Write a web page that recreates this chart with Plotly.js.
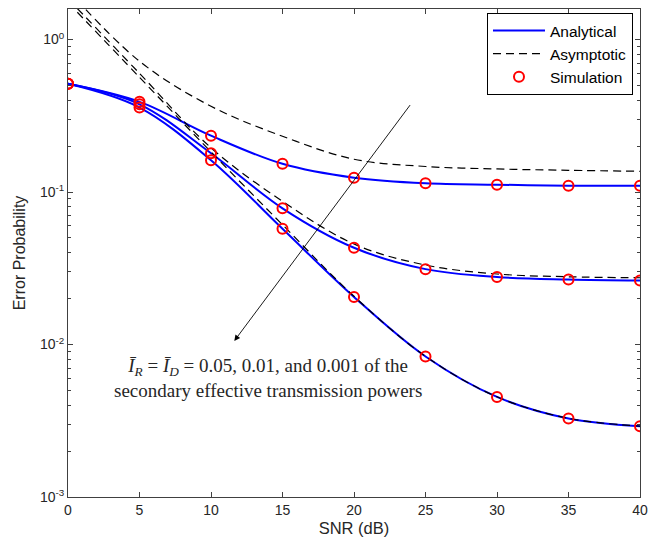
<!DOCTYPE html>
<html>
<head>
<meta charset="utf-8">
<script src="https://cdn.plot.ly/plotly-3.0.1.min.js"></script>
<style>html,body{margin:0;padding:0;background:#fff;}#chart{width:657px;height:547px;}</style>
</head>
<body>
<div id="chart"></div>
<script>
// SNR (dB)
var snr = [0, 5, 10, 15, 20, 25, 30, 35, 40];
// Analytical / simulation values for I_R = I_D = 0.05, 0.01, 0.001
var anal005  = [0.512, 0.390, 0.234, 0.153, 0.124, 0.114, 0.1117, 0.110, 0.110];
var anal001  = [0.512, 0.376, 0.1795, 0.0782, 0.0431, 0.0312, 0.0277, 0.0267, 0.0263];
var anal0001 = [0.512, 0.358, 0.1615, 0.0574, 0.0205, 0.00834, 0.00453, 0.00327, 0.00291];
// Asymptotic values
var asym005  = [2.1, 0.72, 0.365, 0.232, 0.164, 0.147, 0.1416, 0.1388, 0.1367];
var asym001  = [1.85, 0.60, 0.195, 0.087, 0.0456, 0.0332, 0.029, 0.0278, 0.0274];
var asym0001 = [1.75, 0.565, 0.183, 0.061, 0.0207, 0.00836, 0.00454, 0.00328, 0.00292];
// Tick labels
var xTicks = [0, 5, 10, 15, 20, 25, 30, 35, 40];
var yTickVals = [0.001, 0.01, 0.1, 1];
var yTickText = ['10<sup>-3</sup>', '10<sup>-2</sup>', '10<sup>-1</sup>', '10<sup>0</sup>'];
var yMinorVals = [];
[0.001, 0.01, 0.1].forEach(function (d) { for (var k = 2; k <= 9; k++) yMinorVals.push(d * k); });

var blue = 'rgb(0,0,255)';
var traces = [];
[anal005, anal001, anal0001].forEach(function (v, i) {
  traces.push({x: snr, y: v, type: 'scatter', mode: 'lines', name: 'Analytical',
    legendgroup: 'a', showlegend: i === 0,
    line: {color: blue, width: 2, shape: 'spline'}});
});
[asym005, asym001, asym0001].forEach(function (v, i) {
  traces.push({x: snr, y: v, type: 'scatter', mode: 'lines', name: 'Asymptotic',
    legendgroup: 'b', showlegend: i === 0,
    line: {color: 'black', width: 1.2, dash: '8px,5px', shape: 'spline'}});
});
[anal005, anal001, anal0001].forEach(function (v, i) {
  traces.push({x: snr, y: v, type: 'scatter', mode: 'markers', name: 'Simulation',
    legendgroup: 'c', showlegend: i === 0,
    marker: {symbol: 'circle-open', color: 'rgb(255,0,0)', size: 10, line: {width: 2, color: 'rgb(255,0,0)'}}});
});

var axColor = '#404040';
var layout = {
  width: 657, height: 547,
  margin: {l: 68, r: 17, t: 9, b: 50},
  paper_bgcolor: '#fff', plot_bgcolor: '#fff',
  font: {family: 'Liberation Sans, Arial, sans-serif', size: 14, color: '#262626'},
  showlegend: true,
  legend: {x: 0.7325, y: 0.992, xanchor: 'left', yanchor: 'top',
    bgcolor: '#fff', bordercolor: '#000', borderwidth: 1,
    font: {family: 'Liberation Sans, Arial, sans-serif', size: 15.5, color: '#000'},
    itemwidth: 52, tracegroupgap: 0},
  xaxis: {range: [0, 40], tickvals: xTicks, ticks: 'inside', ticklen: 5, tickcolor: axColor,
    showline: true, linecolor: axColor, linewidth: 1, mirror: 'ticks', showgrid: false, zeroline: false,
    tickfont: {size: 14, color: '#262626'},
    title: {text: 'SNR (dB)', font: {size: 16.5, color: '#262626'}, standoff: 5}},
  yaxis: {type: 'log', range: [-3, 0.2], tickvals: yTickVals, ticktext: yTickText,
    ticks: 'inside', ticklen: 5, tickcolor: axColor,
    minor: {tickvals: yMinorVals, ticks: 'inside', ticklen: 3, tickcolor: axColor},
    showline: true, linecolor: axColor, linewidth: 1, mirror: 'ticks', showgrid: false, zeroline: false,
    tickfont: {size: 14, color: '#262626'},
    title: {text: 'Error Probability', font: {size: 16, color: '#262626'}, standoff: 10}},
  annotations: [
    {x: 11.63, y: Math.log10(0.01056), ax: 24.0, ay: Math.log10(0.38), xref: 'x', yref: 'y', axref: 'x', ayref: 'y',
     showarrow: true, arrowhead: 2, arrowsize: 1.3, arrowwidth: 0.9, arrowcolor: '#000', text: ''},
    {x: 14.0, y: Math.log10(0.0060), xref: 'x', yref: 'y', showarrow: false, align: 'center',
     font: {family: 'Liberation Serif, Times New Roman, serif', size: 19, color: '#262626'},
     text: '<i>Ī</i><sub><i>R</i></sub> = <i>Ī</i><sub><i>D</i></sub> = 0.05, 0.01, and 0.001 of the<br>secondary effective transmission powers'}
  ]
};
Plotly.newPlot('chart', traces, layout, {displayModeBar: false, staticPlot: true});
</script>
</body>
</html>
